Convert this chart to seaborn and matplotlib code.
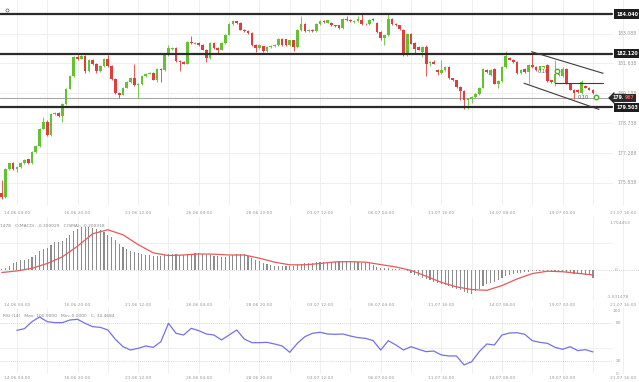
import numpy as np
import matplotlib.pyplot as plt
import seaborn as sns

# ---- data (4h candles, index 0..156) ----
opens = [
    175.33, 175.17, 176.50, 176.79, 176.50, 176.62, 176.79, 176.98, 176.79, 177.35,
    177.64, 178.48, 178.81, 178.16, 179.18, 179.24, 179.08, 179.66, 180.42, 181.02,
    181.95, 181.87, 181.99, 181.26, 181.83, 181.63, 181.26, 181.52, 181.87, 181.52,
    180.87, 180.21, 180.13, 180.47, 180.74, 180.95, 180.58, 180.63, 181.02, 181.15,
    181.18, 180.86, 181.39, 181.31, 182.04, 182.33, 182.39, 181.74, 181.71, 181.63,
    182.68, 182.60, 182.63, 182.55, 182.31, 181.92, 182.63, 182.39, 182.31, 182.63,
    183.04, 183.57, 183.68, 183.60, 183.28, 183.21, 183.13, 182.52, 182.39, 182.47,
    182.25, 182.44, 182.47, 182.52, 182.84, 182.81, 182.52, 182.76, 182.44, 183.25,
    183.57, 183.20, 183.28, 183.22, 183.54, 183.70, 183.62, 183.60, 183.49, 183.49,
    183.34, 183.81, 183.76, 183.65, 183.70, 183.73, 183.57, 183.54, 183.81, 183.60,
    183.17, 182.89, 183.00, 183.81, 183.54, 183.49, 183.25, 182.04, 183.09, 182.63,
    182.44, 182.20, 182.44, 181.66, 181.71, 181.31, 181.18, 181.31, 181.47, 180.91,
    180.82, 180.50, 180.31, 179.85, 179.90, 180.02, 180.15, 180.47, 181.34, 181.07,
    181.39, 180.66, 180.79, 181.47, 181.92, 181.83, 181.71, 181.18, 181.39, 181.23,
    181.55, 181.47, 181.31, 181.45, 181.55, 180.82, 180.69, 181.07, 181.02, 181.39,
    180.66, 180.37, 180.34, 180.21, 180.53, 180.47, 180.37,
]
highs = [
    175.98, 176.55, 176.82, 176.84, 176.66, 176.84, 177.00, 177.02, 177.40, 177.70,
    178.52, 179.05, 178.88, 179.22, 179.30, 179.28, 179.70, 180.46, 181.06, 181.99,
    182.04, 182.07, 182.03, 181.88, 181.87, 181.67, 181.56, 181.91, 182.07, 181.56,
    180.91, 180.25, 180.51, 180.78, 180.99, 181.60, 180.68, 181.06, 181.19, 181.22,
    181.22, 181.43, 181.42, 182.08, 182.55, 182.44, 182.45, 181.80, 181.75, 182.72,
    182.96, 182.70, 182.67, 182.59, 182.35, 182.67, 182.68, 182.43, 182.67, 183.08,
    183.61, 183.76, 183.72, 183.64, 183.32, 183.25, 183.17, 182.56, 182.56, 182.51,
    182.48, 182.53, 182.56, 182.88, 182.88, 182.85, 182.80, 182.80, 183.29, 183.92,
    183.61, 183.32, 183.32, 183.58, 183.74, 183.74, 183.77, 183.64, 183.53, 183.53,
    183.85, 183.95, 183.80, 183.74, 183.92, 184.02, 183.61, 183.80, 183.85, 183.64,
    183.21, 183.04, 184.02, 183.85, 183.58, 183.53, 183.29, 183.13, 183.13, 182.67,
    182.48, 182.48, 182.52, 181.75, 181.83, 181.35, 181.83, 181.51, 181.51, 180.95,
    180.86, 180.54, 180.35, 179.98, 180.06, 180.19, 180.51, 181.43, 181.38, 181.35,
    181.43, 180.83, 181.51, 182.25, 181.96, 181.87, 181.75, 181.35, 181.43, 181.59,
    182.20, 181.51, 181.54, 181.54, 181.59, 180.86, 181.79, 181.15, 181.45, 181.43,
    180.70, 180.41, 180.38, 180.82, 180.57, 180.51, 180.41,
]
lows = [
    175.06, 175.10, 176.45, 176.45, 176.38, 176.58, 176.75, 176.74, 176.75, 177.30,
    177.60, 178.44, 178.10, 178.12, 179.12, 179.02, 178.81, 179.62, 180.38, 180.98,
    181.82, 181.84, 181.20, 181.22, 181.58, 181.20, 181.22, 181.48, 181.47, 180.82,
    180.16, 179.94, 180.09, 180.43, 180.70, 180.53, 179.94, 180.59, 180.98, 181.11,
    180.82, 180.74, 180.74, 181.28, 182.00, 182.29, 181.70, 181.26, 181.59, 181.59,
    182.59, 182.56, 182.50, 182.27, 181.71, 181.88, 182.35, 182.15, 182.27, 182.59,
    183.00, 183.53, 183.55, 183.24, 183.17, 183.09, 182.48, 182.20, 182.35, 182.21,
    182.21, 182.40, 182.43, 182.48, 182.51, 182.48, 182.48, 182.25, 182.40, 183.22,
    183.15, 183.16, 183.18, 183.18, 183.50, 183.61, 183.58, 183.45, 183.40, 183.30,
    183.30, 183.72, 183.66, 183.61, 183.66, 183.53, 183.50, 183.50, 183.72, 183.13,
    182.80, 182.55, 182.96, 183.50, 183.45, 183.26, 182.00, 182.00, 182.56, 182.12,
    182.27, 181.95, 181.05, 181.50, 181.59, 181.10, 181.14, 181.27, 180.87, 180.78,
    180.46, 179.85, 179.45, 179.45, 179.70, 179.98, 180.11, 180.43, 181.19, 181.03,
    180.62, 180.45, 180.75, 181.43, 181.79, 181.67, 181.14, 181.14, 181.19, 180.66,
    181.43, 181.27, 181.27, 181.41, 180.75, 180.70, 180.55, 181.03, 180.98, 180.65,
    180.33, 179.89, 180.22, 180.17, 180.43, 180.33, 180.17,
]
closes = [
    175.17, 176.50, 176.79, 176.50, 176.62, 176.79, 176.95, 176.79, 177.35, 177.64,
    178.48, 178.81, 178.16, 179.18, 179.24, 179.08, 179.66, 180.42, 181.02, 181.95,
    181.87, 181.99, 181.26, 181.83, 181.63, 181.26, 181.52, 181.87, 181.52, 180.87,
    180.21, 180.13, 180.47, 180.74, 180.95, 180.58, 180.63, 181.02, 181.15, 181.18,
    180.86, 181.39, 181.31, 182.04, 182.39, 182.39, 181.74, 181.71, 181.63, 182.68,
    182.63, 182.63, 182.55, 182.31, 181.92, 182.63, 182.39, 182.31, 182.63, 183.04,
    183.57, 183.68, 183.60, 183.28, 183.21, 183.13, 182.52, 182.39, 182.52, 182.25,
    182.44, 182.49, 182.52, 182.84, 182.55, 182.52, 182.76, 182.44, 183.25, 183.57,
    183.20, 183.28, 183.22, 183.54, 183.70, 183.65, 183.73, 183.49, 183.44, 183.34,
    183.81, 183.76, 183.70, 183.70, 183.81, 183.57, 183.54, 183.76, 183.76, 183.17,
    182.89, 183.00, 183.81, 183.54, 183.49, 183.30, 182.04, 183.09, 182.60, 182.36,
    182.31, 182.44, 181.63, 181.71, 181.63, 181.23, 181.34, 181.47, 180.91, 180.82,
    180.50, 180.31, 179.85, 179.94, 180.02, 180.15, 180.47, 181.39, 181.23, 181.31,
    180.66, 180.79, 181.47, 181.99, 181.83, 181.71, 181.18, 181.31, 181.23, 181.55,
    181.47, 181.31, 181.50, 181.50, 180.79, 180.74, 181.15, 181.11, 181.39, 180.69,
    180.37, 180.21, 180.26, 180.74, 180.47, 180.37, 180.21,
]

macd = [
    0.03, 0.06, 0.15, 0.23, 0.30, 0.35, 0.38, 0.40, 0.48, 0.56,
    0.71, 0.78, 0.80, 0.93, 1.03, 1.04, 1.09, 1.18, 1.30, 1.44,
    1.54, 1.59, 1.60, 1.59, 1.58, 1.53, 1.48, 1.40, 1.31, 1.23,
    1.10, 0.98, 0.85, 0.78, 0.71, 0.66, 0.61, 0.58, 0.55, 0.54,
    0.51, 0.51, 0.53, 0.56, 0.60, 0.60, 0.59, 0.56, 0.55, 0.58,
    0.60, 0.61, 0.61, 0.60, 0.56, 0.54, 0.51, 0.50, 0.49, 0.49,
    0.51, 0.56, 0.60, 0.60, 0.58, 0.53, 0.45, 0.38, 0.31, 0.25,
    0.20, 0.16, 0.14, 0.14, 0.13, 0.13, 0.13, 0.14, 0.18, 0.21,
    0.23, 0.25, 0.26, 0.28, 0.28, 0.29, 0.30, 0.30, 0.30, 0.31,
    0.33, 0.33, 0.31, 0.30, 0.28, 0.26, 0.25, 0.23, 0.18, 0.10,
    0.06, 0.06, 0.05, 0.04, 0.03, 0.01, -0.03, -0.06, -0.13, -0.19,
    -0.25, -0.30, -0.35, -0.40, -0.45, -0.50, -0.54, -0.58, -0.63, -0.68,
    -0.73, -0.78, -0.83, -0.88, -0.90, -0.82, -0.73, -0.63, -0.56, -0.50,
    -0.45, -0.40, -0.33, -0.25, -0.20, -0.16, -0.14, -0.11, -0.09, -0.08,
    -0.06, -0.05, -0.05, -0.05, -0.06, -0.08, -0.08, -0.09, -0.09, -0.10,
    -0.13, -0.15, -0.16, -0.18, -0.19, -0.21, -0.30,
]
# signal (SMA of MACD), read every 4th candle
signal = [
    -0.11, -0.05, 0.05, 0.23, 0.48, 0.88, 1.35, 1.50, 1.31, 0.94,
    0.63, 0.53, 0.55, 0.59, 0.58, 0.55, 0.55, 0.43, 0.28, 0.18,
    0.18, 0.23, 0.29, 0.30, 0.28, 0.19, 0.10, -0.03, -0.25, -0.48,
    -0.65, -0.75, -0.78, -0.60, -0.35, -0.15, -0.06, -0.08, -0.14, -0.20,
]
# RSI(14), read every 2nd candle from candle 4
rsi = [
    68.8, 71.5, 82.7, 90.1, 82.7, 81.1, 81.1, 85.3, 86.4, 80.0,
    74.7, 73.6, 69.4, 54.5, 42.8, 37.5, 40.2, 43.9, 41.8, 50.8,
    80.0, 64.1, 61.4, 72.0, 68.3, 63.0, 61.4, 53.5, 61.4, 69.4,
    55.0, 49.2, 49.2, 49.7, 47.1, 43.9, 33.8, 48.1, 58.8, 64.1,
    65.7, 63.0, 62.5, 63.0, 59.8, 57.2, 56.1, 52.4, 37.5, 52.4,
    45.5, 37.5, 42.8, 38.6, 34.9, 35.9, 29.6, 28.0, 28.0, 13.7,
    18.9, 34.9, 47.1, 45.5, 61.4, 64.6, 65.1, 62.5, 52.4, 49.7,
    48.1, 41.8, 38.6, 42.8, 36.5, 38.1, 34.47,
]

time_labels = ['14.06 04:00', '16.06 20:00', '21.06 12:00', '26.06 04:00',
               '28.06 20:00', '03.07 12:00', '06.07 04:00', '11.07 16:00',
               '14.07 08:00', '19.07 00:00', '21.07 16:00']
price_ticks = [183.088, 181.638, 180.188, 178.738, 177.288, 175.838]
levels = [184.040, 182.120, 179.503]
last_price = 179.967

# drawn channel: (candle index, price) end points
channel_upper = [(139.8, 182.21), (158.7, 181.16)]
channel_lower = [(137.8, 180.68), (157.6, 179.41)]
channel_mid = [(146.0, 180.68), (158.7, 180.68)]
order_marks = [(146.5, 181.27), (156.8, 180.01)]

GREEN = '#62c234'
RED = '#e23d3d'
GRID = '#ececec'
TXT = '#9a9a9a'

sns.set_theme(style='white')
plt.rcParams['font.family'] = ['DejaVu Sans']

n = len(closes)
idx = np.arange(n)
label_idx = np.arange(4, 4 + 16 * len(time_labels), 16)
grid_idx = np.arange(4, 166, 8)
xlim = (-1.7 / 3.79, (639 - 1.7) / 3.79)
right = 612 / 639

fig = plt.figure(figsize=(6.39, 3.82), dpi=100)
ax1 = fig.add_axes([0, 176 / 382, 1, 206 / 382])
ax2 = fig.add_axes([0, 82 / 382, 1, 83 / 382])
ax3 = fig.add_axes([0, 8 / 382, 1, 66 / 382])

for ax in (ax1, ax2, ax3):
    ax.set_xlim(*xlim)
    for s in ax.spines.values():
        s.set_visible(False)
    for g in grid_idx:
        ax.axvline(g, color=GRID, lw=0.6, zorder=0)

# ---- price panel ----
ax1.set_ylim(174.72, 184.72)
ytr = ax1.get_yaxis_transform()
for p in price_ticks:
    ax1.axhline(p, xmax=right, color=GRID, lw=0.6, zorder=0)
    ax1.text(617 / 639, p, f'{p:.3f}', transform=ytr,
             fontsize=3.3, color=TXT, va='center', ha='left')

o, h, l, c = map(np.array, (opens, highs, lows, closes))
cols = np.where(c >= o, GREEN, RED)
ax1.vlines(idx, l, h, colors=cols, lw=0.6, zorder=3)
body = np.maximum(np.abs(c - o), 0.03)
ax1.bar(idx, body, bottom=np.minimum(o, c), width=0.7, color=cols, lw=0, zorder=4)

for lv in levels:
    ax1.axhline(lv, xmax=right, color='#2b2b2b', lw=1.6, zorder=5)
    ax1.text(616 / 639, lv, f'{lv:.3f}', transform=ytr,
             fontsize=3.4, color='white', fontweight='bold', va='center', ha='left',
             bbox=dict(boxstyle='square,pad=0.45', fc='#1e1e1e', ec='none'), zorder=6)

# current price: thin line + dark tag, decimals in red
ax1.axhline(last_price, xmax=right, color='#a8a8a8', lw=0.8, zorder=2)
ax1.text(624.5 / 639, last_price, '179.', transform=ytr,
         fontsize=3.4, color='white', fontweight='bold', va='center', ha='right',
         bbox=dict(boxstyle='larrow,pad=0.35', fc='#2b2b2b', ec='none'), zorder=7)
ax1.text(624.5 / 639, last_price, '967', transform=ytr,
         fontsize=3.4, color='#ff5050', fontweight='bold', va='center', ha='left',
         bbox=dict(boxstyle='square,pad=0.35', fc='#2b2b2b', ec='none'), zorder=7)

for seg in (channel_upper, channel_lower, channel_mid):
    xs, ys = zip(*seg)
    ax1.plot(xs, ys, color='#3c3c3c', lw=0.8, zorder=6)
for (xm, ym) in order_marks:
    ax1.plot(xm, ym, 'o', ms=3.2, mfc='white', mec='#4caf2a', mew=1.0, zorder=7)
    ax1.text(xm - 2.0, ym, '0.10', fontsize=3.6, color='#555555',
             va='center', ha='right', zorder=7)
# small eye icon, top left
ax1.plot(0.011, 0.95, transform=ax1.transAxes, marker='o', ms=2.2,
         mfc='none', mec='#777777', mew=0.6)

for li, lab in zip(label_idx, time_labels):
    for ax, yy in ((ax1, -7.5 / 206), (ax2, -5 / 83), (ax3, -4 / 66)):
        ax.text(li, yy, lab, transform=ax.get_xaxis_transform(), fontsize=3.2,
                color=TXT, ha='center', va='center', clip_on=False)

# ---- MACD panel ----
ax2.set_ylim(-1.144, 1.980)
ax2.axhline(1.0, xmax=right, color=GRID, lw=0.6, zorder=0)
ax2.axhline(0, color='#c8c8c8', lw=0.6, ls=(0, (1, 1.5)), zorder=0)
ax2.bar(idx, macd, width=0.3, color='#8c8c8c', lw=0, zorder=2)
sig_idx = np.arange(0, n, 4)
sns.lineplot(x=sig_idx, y=signal, ax=ax2, color='#e8595a', lw=0.9, zorder=3)
ax2.text(0, 0.89, '1478   C(MACD): -0.300029   C(SMA): -0.200318',
         transform=ax2.transAxes, fontsize=3.2, color='#888888', va='center')
for v, lab, xp in ((1.754453, '1.754453', 610), (0, '0', 615), (-1.031478, '-1.031478', 607)):
    ax2.text(xp / 639, v, lab, transform=ax2.get_yaxis_transform(), fontsize=3.2,
             color=TXT, va='center', ha='left')

# ---- RSI panel ----
ax3.set_ylim(-0.7, 104.4)
for v in (80, 20):
    ax3.axhline(v, xmax=right, color='#c8c8c8', lw=0.6, ls=(0, (1, 1.5)), zorder=0)
ax3.axhline(40, xmax=right, color=GRID, lw=0.6, zorder=0)
rsi_idx = np.arange(4, n, 2)
sns.lineplot(x=rsi_idx, y=rsi, ax=ax3, color='#7272e6', lw=0.9)
ax3.text(3 / 639, 0.88, 'RSI (14)   Max: 100.0000   Min: 0.0000   C: 34.4684',
         transform=ax3.transAxes, fontsize=3.2, color='#888888', va='center')
for v, lab, xp in ((100, '100', 613), (80, '80', 616), (20, '20', 616), (0, '0', 616)):
    ax3.text(xp / 639, v, lab, transform=ax3.get_yaxis_transform(), fontsize=3.2,
             color=TXT, va='center', ha='left')

for ax in (ax1, ax2, ax3):
    ax.set_xlim(*xlim)
    ax.set_xticks([])
    ax.set_yticks([])
    ax.set_xlabel('')
    ax.set_ylabel('')

fig.savefig('out.png', dpi=100)
